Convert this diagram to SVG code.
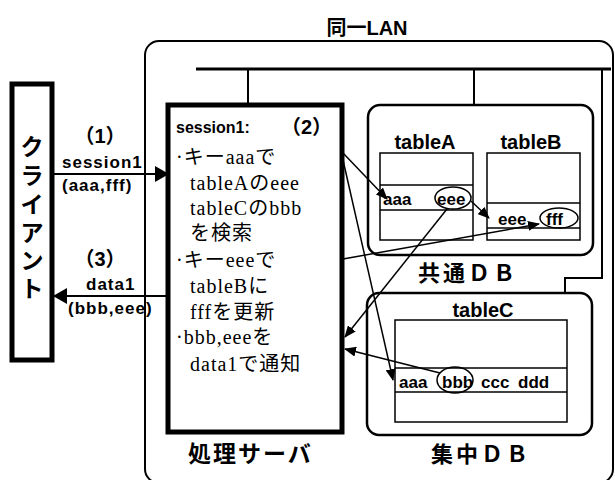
<svg xmlns="http://www.w3.org/2000/svg" width="615" height="480" viewBox="0 0 615 480">
<defs>
<marker id="big" markerUnits="userSpaceOnUse" markerWidth="14" markerHeight="16" refX="13" refY="8" orient="auto"><path d="M0,0 L14,8 L0,16 Z" fill="#000"/></marker>
<marker id="sm" markerUnits="userSpaceOnUse" markerWidth="12" markerHeight="10" refX="11" refY="5" orient="auto"><path d="M0,0 L12,5 L0,10 Z" fill="#000"/></marker>
<style>
.bs{font-family:"Liberation Sans","Noto Sans CJK JP",sans-serif;font-weight:bold;fill:#000}
.sf{font-family:"Liberation Serif","Noto Sans CJK JP",serif;font-size:20px;fill:#000;letter-spacing:1px}
.lb{font-size:17px;letter-spacing:1px}
.thick{fill:#fff;stroke:#000;stroke-width:5}
.db{fill:#fff;stroke:#000;stroke-width:2.5}
.tb{fill:#fff;stroke:#000;stroke-width:1.5}
.ln{stroke:#000;stroke-width:1.5;fill:none}
.el{fill:none;stroke:#000;stroke-width:1.5}
</style>
</defs>
<rect width="615" height="480" fill="#fff"/>
<g id="lan">
<rect x="145" y="41" width="468" height="442" rx="14" fill="none" stroke="#000" stroke-width="2"/>
<text class="bs" x="367" y="35" font-size="20" text-anchor="middle">同一LAN</text>
<line x1="196" y1="69" x2="611" y2="69" stroke="#000" stroke-width="3"/>
<line x1="248" y1="69" x2="248" y2="105" stroke="#000" stroke-width="2"/>
<line x1="474" y1="69" x2="474" y2="105" stroke="#000" stroke-width="2"/>
<path d="M602,69 V278 H565 V293" fill="none" stroke="#000" stroke-width="2"/>
</g>
<g id="client">
<rect class="thick" x="12" y="84" width="40" height="276"/>
<g class="bs" font-size="23" text-anchor="middle">
<text x="32" y="155">ク</text>
<text x="32" y="184">ラ</text>
<text x="32" y="213">イ</text>
<text x="32" y="241">ア</text>
<text x="32" y="269">ン</text>
<text x="32" y="297">ト</text>
</g>
</g>
<g id="server">
<rect class="thick" x="168" y="105" width="174" height="327"/>
<text class="bs" x="176" y="133" font-size="16">session1:</text>
<text class="bs" x="281" y="134" font-size="20">（2）</text>
<text class="sf" x="176" y="164">·キーaaaで</text>
<text class="sf" x="190" y="190">tableAのeee</text>
<text class="sf" x="190" y="215">tableCのbbb</text>
<text class="sf" x="190" y="240">を検索</text>
<text class="sf" x="176" y="267">·キーeeeで</text>
<text class="sf" x="190" y="293">tableBに</text>
<text class="sf" x="190" y="319">fffを更新</text>
<text class="sf" x="176" y="344">·bbb,eeeを</text>
<text class="sf" x="190" y="371">data1で通知</text>
<text class="bs" x="188" y="462" font-size="23" letter-spacing="2">処理サーバ</text>
</g>
<g id="kyotsuDB">
<rect class="db" x="368" y="105" width="225" height="150" rx="12"/>
<text class="bs" x="425" y="149" font-size="20" text-anchor="middle">tableA</text>
<text class="bs" x="531" y="149" font-size="20" text-anchor="middle">tableB</text>
<rect class="tb" x="380" y="153" width="93" height="87"/>
<line class="ln" x1="380" y1="185" x2="473" y2="185"/>
<line class="ln" x1="380" y1="210" x2="473" y2="210"/>
<rect class="tb" x="487" y="153" width="93" height="87"/>
<line class="ln" x1="487" y1="203" x2="580" y2="203"/>
<line class="ln" x1="487" y1="228" x2="580" y2="228"/>
<text class="bs" x="383" y="205" font-size="17">aaa</text>
<text class="bs" x="437" y="205" font-size="17">eee</text>
<ellipse class="el" cx="453" cy="198" rx="18" ry="11"/>
<text class="bs" x="498" y="225" font-size="17">eee</text>
<text class="bs" x="546" y="225" font-size="17">fff</text>
<ellipse class="el" cx="559" cy="218" rx="19" ry="10"/>
<text class="bs" x="468" y="281" font-size="22" text-anchor="middle" letter-spacing="3">共通ＤＢ</text>
</g>
<g id="shuchuDB">
<rect class="db" x="367" y="293" width="225" height="142" rx="12"/>
<text class="bs" x="483" y="317" font-size="20" text-anchor="middle">tableC</text>
<rect class="tb" x="395" y="320" width="172" height="102"/>
<line class="ln" x1="395" y1="368" x2="567" y2="368"/>
<line class="ln" x1="395" y1="392" x2="567" y2="392"/>
<g class="bs" font-size="17">
<text x="399" y="388">aaa</text>
<text x="442" y="388">bbb</text>
<text x="481" y="388">ccc</text>
<text x="518" y="388">ddd</text>
</g>
<ellipse class="el" cx="455" cy="380" rx="18" ry="13"/>
<text class="bs" x="481" y="462" font-size="22" text-anchor="middle" letter-spacing="3">集中ＤＢ</text>
</g>
<g id="connectors">
<line x1="52" y1="174" x2="168" y2="174" stroke="#000" stroke-width="2" marker-end="url(#big)"/>
<line x1="168" y1="296" x2="54" y2="296" stroke="#000" stroke-width="2" marker-end="url(#big)"/>
<line class="ln" x1="343" y1="153" x2="387" y2="199" marker-end="url(#sm)"/>
<line class="ln" x1="343" y1="160" x2="393" y2="380" marker-end="url(#sm)"/>
<line class="ln" x1="471" y1="201" x2="489" y2="218" marker-end="url(#sm)"/>
<line class="ln" x1="343" y1="259" x2="539" y2="224" marker-end="url(#sm)"/>
<line class="ln" x1="447" y1="209" x2="345" y2="337" marker-end="url(#sm)"/>
<line class="ln" x1="440" y1="373" x2="345" y2="349" marker-end="url(#sm)"/>
</g>
<g id="labels">
<text class="bs" x="100" y="143" font-size="20" text-anchor="middle">（1）</text>
<text class="bs lb" x="62" y="168">session1</text>
<text class="bs lb" x="62" y="191">(aaa,fff)</text>
<text class="bs" x="100" y="266" font-size="20" text-anchor="middle">（3）</text>
<text class="bs lb" x="86" y="290">data1</text>
<text class="bs lb" x="68" y="314">(bbb,eee)</text>
</g>
</svg>
